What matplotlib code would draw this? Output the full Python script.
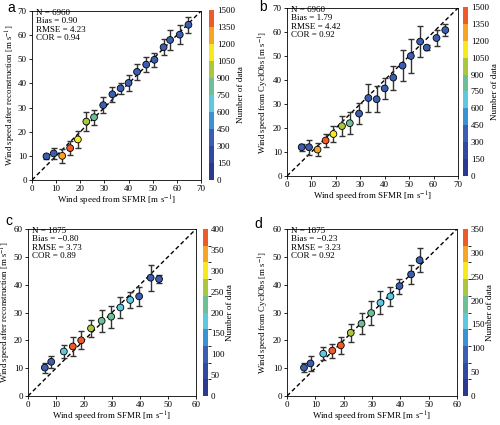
import numpy as np
import matplotlib
matplotlib.use("Agg")
import matplotlib.pyplot as plt
from matplotlib.colors import ListedColormap, BoundaryNorm

plt.rcParams['font.family'] = ['Liberation Serif', 'DejaVu Serif']
plt.rcParams['mathtext.fontset'] = 'stix'
plt.rcParams['font.size'] = 6.5

# ---------- data ----------
x_ab = [6, 9, 12.5, 15.8, 19, 22.5, 25.7, 29.5, 33.3, 36.7, 40, 43.5, 47.3, 50.7, 54.5, 57.2, 61.2, 64.8]
y_a = [9.8, 11, 10, 13.2, 16.8, 24.2, 26, 31, 35.5, 38, 40.2, 44.8, 47.8, 49.8, 55, 58, 60.2, 64.3]
e_a = [0.9, 2.2, 3.0, 2.8, 3.5, 4.0, 3.2, 3.3, 3.0, 2.2, 3.3, 3.2, 3.0, 2.8, 3.3, 4.0, 3.8, 3.3]
y_b = [12, 12, 11, 14.8, 17.5, 20.8, 22, 26, 32.5, 32, 36.5, 41, 46, 50, 56, 53.5, 57.5, 60.8]
e_b = [1.5, 3.2, 2.6, 2.8, 3.5, 4.0, 4.5, 4.5, 5.8, 5.5, 4.5, 5.0, 6.5, 7.0, 6.5, 1.0, 3.2, 2.5]
n_ab = [320, 330, 1260, 1420, 1120, 1000, 800, 400, 380, 360, 370, 350, 340, 330, 320, 310, 320, 330]

x_cd = [6, 8.3, 12.8, 16, 19, 22.5, 26.3, 29.7, 33, 36.5, 39.7, 43.8, 46.8]
y_c = [10.2, 12.3, 16, 17.8, 20, 24.3, 27, 28.5, 31.8, 34.5, 35.8, 42.5, 42]
e_c = [1.8, 2.2, 2.5, 3.3, 3.2, 3.0, 4.0, 4.0, 3.8, 3.0, 3.5, 4.7, 1.5]
n_c = [90, 95, 190, 380, 370, 270, 230, 220, 190, 170, 110, 100, 90]
y_d = [10.2, 11.7, 15.2, 16.3, 18.2, 22.7, 26, 29.8, 33.5, 35.8, 39.5, 43.7, 48.8]
e_d = [1.5, 2.7, 2.3, 2.5, 3.0, 3.3, 3.8, 4.3, 4.2, 3.3, 2.7, 3.3, 4.3]
n_d = [85, 90, 150, 330, 340, 220, 190, 180, 160, 150, 90, 80, 80]

stats_a = ["N = 6960", "Bias = 0.90", "RMSE = 4.23", "COR = 0.94"]
stats_b = ["N = 6960", "Bias = 1.79", "RMSE = 4.42", "COR = 0.92"]
stats_c = ["N = 1875", "Bias = \u22120.80", "RMSE = 3.73", "COR = 0.89"]
stats_d = ["N = 1875", "Bias = \u22120.23", "RMSE = 3.23", "COR = 0.92"]

colors = ['#2b3990', '#2f4aa0', '#3a5fb2', '#3b92d2', '#5dc8df',
          '#6dbf98', '#a9c83d', '#f6ea1c', '#f7a623', '#ee5a28']
cmap = ListedColormap(colors)

xlabel = "Wind speed from SFMR [m s$^{-1}$]"
ylab_rec = "Wind speed after reconstruction [m s$^{-1}$]"
ylab_cyc = "Wind speed from CyclObs [m s$^{-1}$]"

W, H = 500.0, 425.0


def box(l, t, r, b):
    return [l / W, 1 - b / H, (r - l) / W, (b - t) / H]


fig = plt.figure(figsize=(5, 4.25), dpi=100)

panels = [
    dict(ax=box(32, 11, 201, 180), cb=box(209, 10, 214, 180), x=x_ab, y=y_a, e=e_a, n=n_ab,
         lim=70, vmax=1500, cstep=150, st=stats_a, yl=ylab_rec, lab='a', lp=(7, 1), ylx=18),
    dict(ax=box(287, 8, 458, 176), cb=box(463, 7, 468, 176), x=x_ab, y=y_b, e=e_b, n=n_ab,
         lim=70, vmax=1500, cstep=150, st=stats_b, yl=ylab_cyc, lab='b', lp=(259, 0), ylx=271),
    dict(ax=box(28, 229, 196, 396), cb=box(203, 229, 208, 396), x=x_cd, y=y_c, e=e_c, n=n_c,
         lim=60, vmax=400, cstep=50, st=stats_c, yl=ylab_rec, lab='c', lp=(5, 214), ylx=13.5),
    dict(ax=box(287, 229, 457, 396), cb=box(463, 229, 468, 396), x=x_cd, y=y_d, e=e_d, n=n_d,
         lim=60, vmax=350, cstep=50, st=stats_d, yl=ylab_cyc, lab='d', lp=(254, 217), ylx=271),
]

for p in panels:
    ax = fig.add_axes(p['ax'])
    lim = p['lim']
    ax.plot([0, lim], [0, lim], 'k--', lw=1.0, dashes=(3, 2), zorder=1)
    ax.errorbar(p['x'], p['y'], yerr=p['e'], fmt='none', ecolor='#333333',
                elinewidth=1.0, capsize=2.5, capthick=1.0, zorder=2)
    norm = BoundaryNorm(np.linspace(0, p['vmax'], 11), cmap.N)
    sc = ax.scatter(p['x'], p['y'], c=p['n'], cmap=cmap, norm=norm, s=24,
                    edgecolors='black', linewidths=0.6, zorder=3)
    ax.set_xlim(0, lim)
    ax.set_ylim(0, lim)
    ax.set_xticks(np.arange(0, lim + 1, 10))
    ax.set_yticks(np.arange(0, lim + 1, 10))
    ax.tick_params(length=2.5, width=0.6, pad=1.2, labelsize=6.5)
    for s in ax.spines.values():
        s.set_linewidth(0.6)
    ax.set_xlabel(xlabel, labelpad=0.5)
    ax.set_ylabel(p['yl'], fontsize=6.3)
    axw = p['ax'][2] * W
    ax.yaxis.set_label_coords((p['ylx'] - p['ax'][0] * W) / axw, 0.5)
    ax.text(0.025, 1.012, "\n".join(p['st']), transform=ax.transAxes,
            va='top', ha='left', linespacing=1.05, fontsize=6.5)
    cax = fig.add_axes(p['cb'])
    cb = fig.colorbar(sc, cax=cax, ticks=np.arange(0, p['vmax'] + 1, p['cstep']))
    cb.outline.set_linewidth(0)
    cax.tick_params(length=0, pad=2, labelsize=6.5)
    cb.set_label("Number of data", labelpad=1.5, fontsize=6.5)
    fig.text(p['lp'][0] / W, 1 - p['lp'][1] / H, p['lab'], family='Liberation Sans', fontsize=10,
             va='top', ha='left')

fig.savefig("out.png", dpi=100)
